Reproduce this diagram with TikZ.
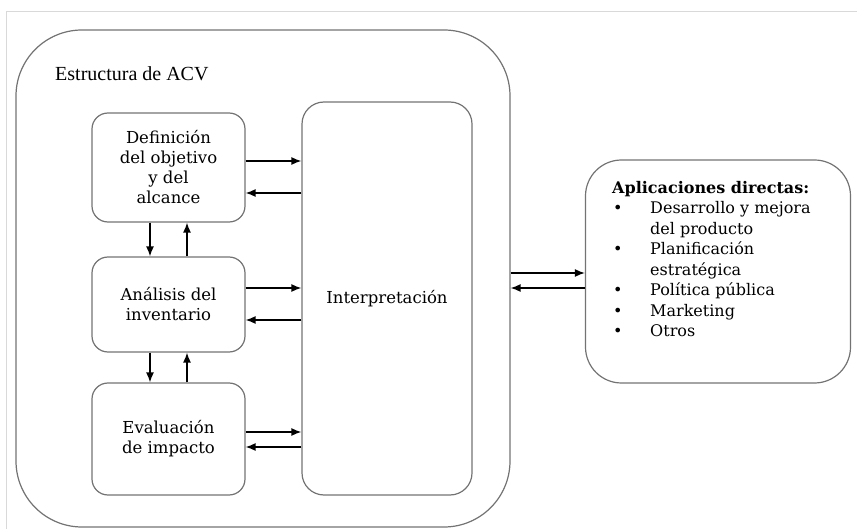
\documentclass[tikz,border=0pt]{standalone}
\usepackage{fontspec}
\setmainfont{DejaVu Serif}
\newfontfamily\titlefont{Liberation Serif}
\usetikzlibrary{arrows.meta}
\definecolor{boxgray}{gray}{0.45}
\definecolor{framegray}{gray}{0.85}
\tikzset{
  stagebox/.style={draw=boxgray, line width=1.2pt, rounded corners=16pt, inner sep=0pt,
    align=center, font=\fontsize{16.5}{20}\selectfont},
  arr/.style={draw=black, line width=1.4pt, -{Latex[length=10pt,width=8pt]}},
}
\begin{document}
\begin{tikzpicture}[x=1pt,y=-1pt]
\useasboundingbox (0,0) rectangle (857,529);
% light frame
\draw[framegray, line width=1pt] (857,12) -- (6,12) -- (6,529);
% outer ACV box
\node[draw=boxgray, line width=1.2pt, rounded corners=66pt, inner sep=0pt,
  minimum width=494pt, minimum height=497pt] (acv) at (263,278.5) {};
\node[anchor=west, inner sep=0pt, font=\titlefont\fontsize{20}{24}\selectfont] (title) at (55,74) {Estructura de ACV};
% stage boxes
\node[stagebox, minimum width=153pt, minimum height=109pt] (b1) at (168.5,167.5)
  {Definición\\del objetivo\\y del\\alcance};
\node[stagebox, minimum width=153pt, minimum height=95pt] (b2) at (168.5,304.5)
  {Análisis del\\inventario};
\node[stagebox, minimum width=153pt, minimum height=112pt] (b3) at (168.5,439)
  {Evaluación\\de impacto};
\node[stagebox, rounded corners=22pt, minimum width=170pt, minimum height=393pt] (interp) at (387,298.5)
  {Interpretación};
% aplicaciones box
\node[draw=boxgray, line width=1.2pt, rounded corners=36pt, inner sep=0pt,
  minimum width=265pt, minimum height=223pt] (apl) at (718,271.5) {};
\node[anchor=north west, inner sep=0pt, align=left, font=\fontsize{16}{20.5}\selectfont] (apltext) at (612,181)
  {\textbf{Aplicaciones directas:}\\
   \makebox[38pt][l]{\hspace{1pt}•}Desarrollo y mejora\\
   \hspace*{38pt}del producto\\
   \makebox[38pt][l]{\hspace{1pt}•}Planificación\\
   \hspace*{38pt}estratégica\\
   \makebox[38pt][l]{\hspace{1pt}•}Política pública\\
   \makebox[38pt][l]{\hspace{1pt}•}Marketing\\
   \makebox[38pt][l]{\hspace{1pt}•}Otros};
% horizontal arrows boxes <-> interpretation
\draw[arr] ([yshift=6.5pt]b1.east) -- ([yshift=6.5pt]b1.east -| interp.west);
\draw[arr] ([yshift=-25.5pt]b1.east -| interp.west) -- ([yshift=-25.5pt]b1.east);
\draw[arr] ([yshift=16.5pt]b2.east) -- ([yshift=16.5pt]b2.east -| interp.west);
\draw[arr] ([yshift=-15.5pt]b2.east -| interp.west) -- ([yshift=-15.5pt]b2.east);
\draw[arr] ([yshift=7pt]b3.east) -- ([yshift=7pt]b3.east -| interp.west);
\draw[arr] ([yshift=-8pt]b3.east -| interp.west) -- ([yshift=-8pt]b3.east);
% vertical arrows
\draw[arr] ([xshift=-18.5pt]b1.south) -- ([xshift=-18.5pt]b1.south |- b2.north);
\draw[arr] ([xshift=18.5pt]b1.south |- b2.north) -- ([xshift=18.5pt]b1.south);
\draw[arr] ([xshift=-18.5pt]b2.south) -- ([xshift=-18.5pt]b2.south |- b3.north);
\draw[arr] ([xshift=18.5pt]b2.south |- b3.north) -- ([xshift=18.5pt]b2.south);
% ACV <-> aplicaciones
\draw[arr] ([yshift=5.5pt]acv.east) -- ([yshift=5.5pt]acv.east -| apl.west);
\draw[arr] ([yshift=-9.5pt]acv.east -| apl.west) -- ([yshift=-9.5pt]acv.east);
\end{tikzpicture}
\end{document}
